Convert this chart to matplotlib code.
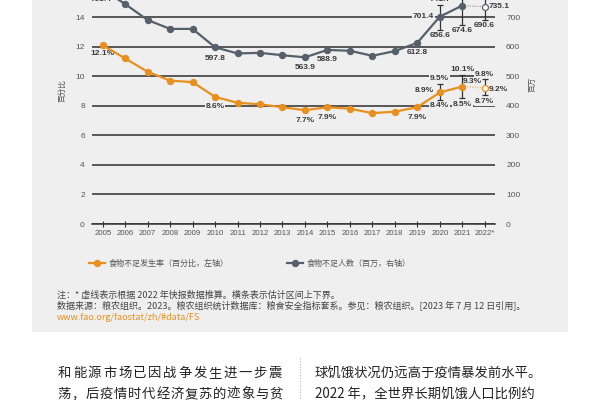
import matplotlib
matplotlib.use('Agg')
import matplotlib.pyplot as plt
from matplotlib.lines import Line2D
from matplotlib.patches import Rectangle

# ---------------- data ----------------
years = ['2005', '2006', '2007', '2008', '2009', '2010', '2011', '2012', '2013',
         '2014', '2015', '2016', '2017', '2018', '2019', '2020', '2021', '2022*']
pou = [12.1, 11.2, 10.3, 9.7, 9.6, 8.6, 8.2, 8.1, 7.9,
       7.7, 7.9, 7.8, 7.5, 7.6, 7.9, 8.9, 9.3, 9.2]
nou = [793.4, 744.0, 690.0, 660.0, 660.0, 597.8, 577.0, 579.0, 571.0,
       563.9, 588.9, 586.0, 569.0, 585.0, 612.8, 701.4, 738.9, 735.1]
range_idx = [15, 16, 17]
pou_low = [8.4, 8.5, 8.7]
pou_high = [9.5, 10.1, 9.8]
nou_low = [656.6, 674.6, 690.6]
nou_high = [741.7, 802.1, 783.1]
left_ticks = [0, 2, 4, 6, 8, 10, 12, 14, 16]
right_ticks = [0, 100, 200, 300, 400, 500, 600, 700, 800]

legend_pou = '食物不足发生率（百分比，左轴）'
legend_nou = '食物不足人数（百万，右轴）'
ylabel_left = '百分比'
ylabel_right = '百万'
note1 = '注：* 虚线表示根据 2022 年快报数据推算。横条表示估计区间上下界。'
note2 = '数据来源：粮农组织。2023。粮农组织统计数据库：粮食安全指标套系。参见：粮农组织。[2023 年 7 月 12 日引用]。'
note3 = 'www.fao.org/faostat/zh/#data/FS'
body_left = ['和能源市场已因战争发生进一步震', '荡，后疫情时代经济复苏的迹象与贫']
body_right = ['球饥饿状况仍远高于疫情暴发前水平。', '2022 年，全世界长期饥饿人口比例约']

# ---------------- style ----------------
W, H = 600, 400
ORANGE = '#E8901F'
ORANGE_LIGHT = '#F2BE7C'
GRAY = '#56606B'
PANEL = '#EFEFEF'
GRID = '#444444'
TXT = '#555555'
CJK = ['Noto Sans CJK SC', 'DejaVu Sans']
NUM = ['Liberation Sans Narrow', 'Liberation Sans', 'DejaVu Sans']
PX = 0.72  # points per pixel at dpi 100

plt.rcParams['font.family'] = CJK

fig = plt.figure(figsize=(6, 4), dpi=100)
fig.patch.set_facecolor('white')

def fx(px):
    return px / W

def fy(py):
    return 1 - py / H

# grey panel
fig.patches.append(Rectangle((fx(32), fy(332)), fx(568) - fx(32), 1 - fy(332),
                             transform=fig.transFigure, fc=PANEL, ec='none', zorder=-5))

# axes geometry: x from 91.7 to 495 px; y zero at 224 px, 14.78 px per unit
x_left, x_right = 91.7, 495.0
step = 22.47
x0_px = 102.7
y0_px = 224.0
unit = 14.78
ax = fig.add_axes([fx(x_left), fy(y0_px), (x_right - x_left) / W, 16 * unit / H])
ax.set_facecolor('none')
ax.set_xlim(-(x0_px - x_left) / step, 17 + (x_right - (x0_px + 17 * step)) / step)
ax.set_ylim(0, 16)
ax.set_axisbelow(True)
for s in ax.spines.values():
    s.set_visible(False)
ax.spines['bottom'].set_visible(True)
ax.spines['bottom'].set_color('#333333')
ax.spines['bottom'].set_linewidth(1.1)

xs = list(range(len(years)))
ax.set_xticks(xs)
ax.set_xticklabels(years, family=NUM, fontsize=5.6, color=TXT)
ax.tick_params(axis='x', direction='inout', length=5, width=0.8, color='#333333', pad=2)
ax.set_yticks(left_ticks)
ax.set_yticklabels([str(t) for t in left_ticks], family=NUM, fontsize=6, color=TXT)
ax.tick_params(axis='y', length=0, pad=5)
ax.yaxis.grid(True, color=GRID, linewidth=1.25)
ax.xaxis.grid(False)

ax2 = ax.twinx()
ax2.set_ylim(0, 800)
for s in ax2.spines.values():
    s.set_visible(False)
ax2.set_yticks(right_ticks)
ax2.set_yticklabels([str(t) for t in right_ticks], family=NUM, fontsize=6, color=TXT)
ax2.tick_params(axis='y', length=0, pad=8)

# ---------------- series ----------------
bbox = dict(boxstyle='square,pad=0.1', fc=PANEL, ec='none')

# orange (left axis)
ax.plot(xs[:-1], pou[:-1], color=ORANGE, lw=1.6, marker='o', ms=4.3, zorder=4)
ax.plot(xs[-2:], pou[-2:], color=ORANGE_LIGHT, lw=0.9, ls=(0, (1, 1)), zorder=3)
ax.plot([xs[-1]], [pou[-1]], marker='o', ms=4.3, mfc='white', mec=ORANGE, mew=0.9, ls='none', zorder=4)
ax.errorbar(range_idx, [pou[i] for i in range_idx],
            yerr=[[pou[i] - lo for i, lo in zip(range_idx, pou_low)],
                  [hi - pou[i] for i, hi in zip(range_idx, pou_high)]],
            fmt='none', ecolor='#333333', elinewidth=0.9, capsize=2.3, capthick=0.9, zorder=3)

# grey (right axis)
ax2.plot(xs[:-1], nou[:-1], color=GRAY, lw=1.6, marker='o', ms=4.3, zorder=4)
ax2.plot(xs[-2:], nou[-2:], color='#9AA2AA', lw=0.9, ls=(0, (1, 1)), zorder=3)
ax2.plot([xs[-1]], [nou[-1]], marker='o', ms=4.3, mfc='white', mec=GRAY, mew=0.9, ls='none', zorder=4)
ax2.errorbar(range_idx, [nou[i] for i in range_idx],
             yerr=[[nou[i] - lo for i, lo in zip(range_idx, nou_low)],
                   [hi - nou[i] for i, hi in zip(range_idx, nou_high)]],
             fmt='none', ecolor='#333333', elinewidth=0.9, capsize=2.3, capthick=0.9, zorder=3)

def lab(a, x, y, text, dx=0, dy=0, ha='center'):
    a.annotate(text, (x, y), xytext=(dx * PX, dy * PX), textcoords='offset points',
               ha=ha, va='center', fontsize=6.0, family=NUM, fontweight='bold',
               color='#3A3A3A', bbox=bbox, zorder=2, annotation_clip=False)

# orange labels
for i, dx, dy, ha in [(0, 0, -8, 'center'), (5, 0, -10, 'center'), (9, 0, -10, 'center'),
                      (10, 0, -10, 'center'), (14, 0, -10, 'center'), (15, -6, 2, 'right'),
                      (16, 1, 5, 'left'), (17, 4, -1, 'left')]:
    lab(ax, xs[i], pou[i], f'{pou[i]:.1f}%', dx, dy, ha)
for i, lo, hi in zip(range_idx, pou_low, pou_high):
    lab(ax, xs[i], hi, f'{hi:.1f}%', 0, 5)
    lab(ax, xs[i], lo, f'{lo:.1f}%', 0, -6)

# grey labels
for i, dx, dy, ha in [(0, -2, -10, 'center'), (5, 0, -11, 'center'), (9, 0, -10, 'center'),
                      (10, 0, -10, 'center'), (14, 0, -10, 'center'), (15, -6, 0, 'right'),
                      (16, 8, 7, 'center'), (17, 4, 0, 'left')]:
    lab(ax2, xs[i], nou[i], f'{nou[i]:.1f}', dx, dy, ha)
for i, lo, hi in zip(range_idx, nou_low, nou_high):
    lab(ax2, xs[i], hi, f'{hi:.1f}', 0, 5)
    lab(ax2, xs[i], lo, f'{lo:.1f}', 0, -6)

# axis titles
fig.text(fx(62), fy(91), ylabel_left, rotation=90, ha='center', va='center',
         fontsize=5.5, color=TXT, family=CJK)
fig.text(fx(532), fy(84), ylabel_right, rotation=90, ha='center', va='center',
         fontsize=5.5, color=TXT, family=CJK)

# legend
h1 = Line2D([], [], color=ORANGE, lw=1.6, marker='o', ms=4.3)
h2 = Line2D([], [], color=GRAY, lw=1.6, marker='o', ms=4.3)
for h, t, xp in [(h1, legend_pou, 89), (h2, legend_nou, 287)]:
    leg = fig.legend([h], [t], loc='center left', bbox_to_anchor=(fx(xp), fy(263)),
                     frameon=False, borderpad=0, borderaxespad=0, handlelength=2.0,
                     handletextpad=0.5, prop={'family': CJK, 'size': 5.8})
    for tx in leg.get_texts():
        tx.set_color(TXT)

# notes
fig.text(fx(57), fy(295), note1, ha='left', va='center', fontsize=6.5, color='#444444', family=CJK)
fig.text(fx(57), fy(305.5), note2, ha='left', va='center', fontsize=6.5, color='#444444', family=CJK)
fig.text(fx(57), fy(317), note3, ha='left', va='center', fontsize=6.5, color=ORANGE, family=CJK)

# body text (two columns)
def justified(text, x0, x1, y, size):
    n = len(text)
    w = (x1 - x0) / n
    for k, ch in enumerate(text):
        fig.text(fx(x0 + w * (k + 0.5)), fy(y), ch, ha='center', va='center',
                 fontsize=size, color='#222222', family=CJK, fontweight='medium')

justified(body_left[0], 57, 283, 373, 9.6)
justified(body_left[1], 57, 283, 394, 9.6)
fig.text(fx(315), fy(373), body_right[0], ha='left', va='center', fontsize=9.6,
         color='#222222', family=CJK, fontweight='medium')
fig.text(fx(315), fy(394), body_right[1], ha='left', va='center', fontsize=9.6,
         color='#222222', family=CJK, fontweight='medium')
fig.add_artist(Line2D([fx(300), fx(300)], [fy(358), fy(400)], transform=fig.transFigure,
                      color='#BBBBBB', lw=0.8, ls=(0, (1, 1.5))))

fig.savefig('out.png', dpi=100)
